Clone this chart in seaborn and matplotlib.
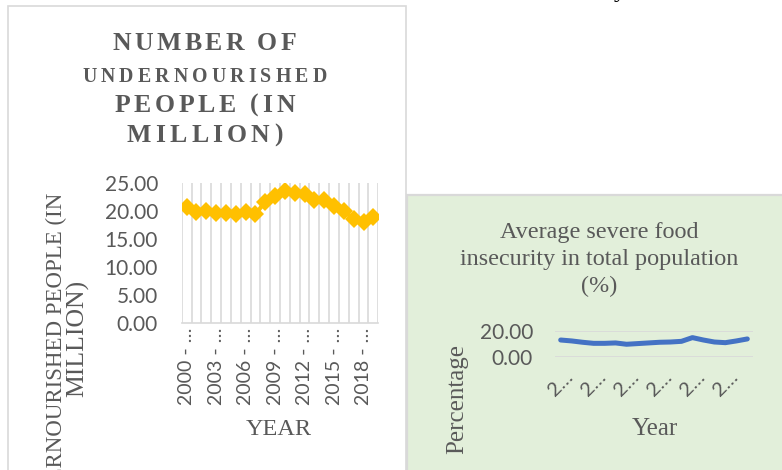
import numpy as np
import pandas as pd
import matplotlib
matplotlib.use("Agg")
import matplotlib.pyplot as plt
import seaborn as sns
from matplotlib.patches import Rectangle
from matplotlib.font_manager import FontProperties

# ---- data -------------------------------------------------------------
undernourished_periods = [
    "2000 - 2002", "2001 - 2003", "2002 - 2004", "2003 - 2005", "2004 - 2006",
    "2005 - 2007", "2006 - 2008", "2007 - 2009", "2008 - 2010", "2009 - 2011",
    "2010 - 2012", "2011 - 2013", "2012 - 2014", "2013 - 2015", "2014 - 2016",
    "2015 - 2017", "2016 - 2018", "2017 - 2019", "2018 - 2020", "2019 - 2021",
]
undernourished_million = [
    20.8, 19.9, 20.0, 19.7, 19.6, 19.4, 19.8, 19.4, 21.7, 22.6,
    23.6, 23.2, 23.0, 22.0, 21.9, 20.9, 20.0, 18.6, 18.0, 18.9,
]
left_yticks = [0, 5, 10, 15, 20, 25]

severe_periods = [
    "2000-2002", "2001-2003", "2002-2004", "2003-2005", "2004-2006", "2005-2007",
    "2006-2008", "2007-2009", "2008-2010", "2009-2011", "2010-2012", "2011-2013",
    "2012-2014", "2013-2015", "2014-2016", "2015-2017", "2016-2018", "2017-2019",
]
severe_pct = [
    13.0, 12.3, 11.3, 10.5, 10.5, 10.8, 9.8, 10.3, 10.8,
    11.3, 11.5, 12.0, 14.8, 13.0, 11.5, 11.0, 12.3, 13.8,
]
right_yticks = [0, 20]

# ---- styling ----------------------------------------------------------
sns.set_style("white")
SERIF = ["Liberation Serif", "DejaVu Serif"]
SANS = ["Lato", "DejaVu Sans"]
plt.rcParams["font.family"] = SANS
TEXT = "#595959"
GRID = "#D9D9D9"

W, H = 782, 470
fig = plt.figure(figsize=(W / 100, H / 100), dpi=100)
fig.patch.set_facecolor("white")


def fx(px):
    return px / W


def fy(py):
    return 1 - py / H


# chart panels
fig.add_artist(Rectangle((fx(7.5), fy(480)), fx(406) - fx(7.5), fy(6) - fy(480),
                         transform=fig.transFigure, facecolor="white",
                         edgecolor=GRID, lw=1.2, zorder=0))
fig.add_artist(Rectangle((fx(407), fy(500)), fx(800) - fx(407), fy(194.5) - fy(500),
                         transform=fig.transFigure, facecolor="#E2EFDA",
                         edgecolor=GRID, lw=1.6, zorder=0))

# ---- left chart: undernourished people ---------------------------------
ax1 = fig.add_axes([fx(181.7), fy(323.3), (378.3 - 181.7) / W, (323.3 - 183) / H])
ax1.set_facecolor("white")
df1 = pd.DataFrame({"pos": np.arange(len(undernourished_million)),
                    "value": undernourished_million})
sns.lineplot(data=df1, x="pos", y="value", ax=ax1, color="#FFC000", lw=3.0,
             marker="D", markersize=9, markeredgewidth=0, zorder=3)
n1 = len(undernourished_periods)
ax1.set_xlim(-0.5, n1 - 0.5)
ax1.set_ylim(left_yticks[0], left_yticks[-1])
ax1.set_xticks(np.arange(-0.5, n1, 1.0), minor=True)
shown1 = list(range(0, n1, 3))
ax1.set_xticks(shown1)
ax1.set_xticklabels([undernourished_periods[i].split(" - ")[0] + " - …" for i in shown1],
                    rotation=90, fontsize=14, color=TEXT, va="top", ha="center")
ax1.set_yticks(left_yticks)
ax1.set_yticklabels([f"{v:.2f}" for v in left_yticks], fontsize=15, color=TEXT)
ax1.tick_params(axis="x", which="both", length=0, pad=3)
ax1.tick_params(axis="y", length=0, pad=17)
ax1.grid(False)
ax1.grid(True, axis="x", which="minor", color=GRID, lw=1.2)
for side in ["top", "left", "right"]:
    ax1.spines[side].set_visible(False)
ax1.spines["bottom"].set_color(GRID)
ax1.spines["bottom"].set_linewidth(1.2)
ax1.set_xlabel("")
ax1.set_ylabel("")


def spaced_line(cx, base_y, text, size_pt, gap_px):
    renderer = fig.canvas.get_renderer()
    fp = FontProperties(family=SERIF, weight="bold", size=size_pt)

    def width(s):
        return renderer.get_text_width_height_descent(s, fp, ismath=False)[0]

    bar = width("|")
    offsets = [width(text[:i] + "|") - bar + i * gap_px for i in range(len(text))]
    total = width(text + "|") - bar + (len(text) - 1) * gap_px
    x0 = cx - total / 2
    for ch, off in zip(text, offsets):
        if ch != " ":
            fig.text(fx(x0 + off), fy(base_y), ch, fontproperties=fp,
                     color=TEXT, ha="left", va="baseline")


spaced_line(204.5, 50, "NUMBER OF", 18.5, 3.3)
spaced_line(204.5, 81.5, "UNDERNOURISHED", 14.3, 4.1)
spaced_line(204.5, 112, "PEOPLE (IN", 18.5, 3.7)
spaced_line(204.5, 142, "MILLION)", 18.5, 4.2)

fig.text(fx(279), fy(435), "YEAR", family=SERIF, fontsize=17.5, color=TEXT,
         ha="center", va="baseline")
fig.text(fx(56), fy(193), "NUMBER OF UNDERNOURISHED PEOPLE (IN", family=SERIF,
         fontsize=16.5, color=TEXT, rotation=90, ha="center", va="top")
fig.text(fx(78), fy(338), "MILLION)", family=SERIF, fontsize=18.5, color=TEXT,
         rotation=90, ha="center", va="center")

# ---- right chart: severe food insecurity --------------------------------
ax2 = fig.add_axes([fx(555.2), fy(357.3), (752.8 - 555.2) / W, (357.3 - 330.7) / H])
ax2.set_facecolor("none")
df2 = pd.DataFrame({"pos": np.arange(len(severe_pct)), "value": severe_pct})
sns.lineplot(data=df2, x="pos", y="value", ax=ax2, color="#4472C4", lw=3.6,
             solid_capstyle="round", solid_joinstyle="round", zorder=3)
n2 = len(severe_periods)
ax2.set_xlim(-0.5, n2 - 0.5)
ax2.set_ylim(right_yticks[0], right_yticks[-1])
shown2 = list(range(0, n2, 3))
ax2.set_xticks(shown2)
ax2.set_xticklabels([severe_periods[i][0] + "…" for i in shown2], rotation=45,
                    fontsize=14.5, color=TEXT, ha="center", va="top")
ax2.set_yticks(right_yticks)
ax2.set_yticklabels([f"{v:.2f}" for v in right_yticks], fontsize=15, color=TEXT)
ax2.tick_params(axis="x", length=0, pad=8)
ax2.tick_params(axis="y", length=0, pad=16)
ax2.grid(True, axis="y", color=GRID, lw=1.2)
ax2.grid(False, axis="x")
for side in ax2.spines:
    ax2.spines[side].set_visible(False)
ax2.set_xlabel("")
ax2.set_ylabel("")

for base, line in zip([238, 265, 292],
                      ["Average severe food", "insecurity in total population", "(%)"]):
    fig.text(fx(599), fy(base), line, family=SERIF, fontsize=17.4, color=TEXT,
             ha="center", va="baseline")
fig.text(fx(655), fy(435), "Year", family=SERIF, fontsize=18, color=TEXT,
         ha="center", va="baseline")
fig.text(fx(457), fy(398.5), "Percentage", family=SERIF, fontsize=18, color=TEXT,
         rotation=90, ha="center", va="center")

# tail of a heading above the panels
fig.text(fx(620), fy(-3), "y", family=SERIF, fontsize=18, color="black",
         ha="center", va="baseline")

fig.savefig("out.png", dpi=100)
